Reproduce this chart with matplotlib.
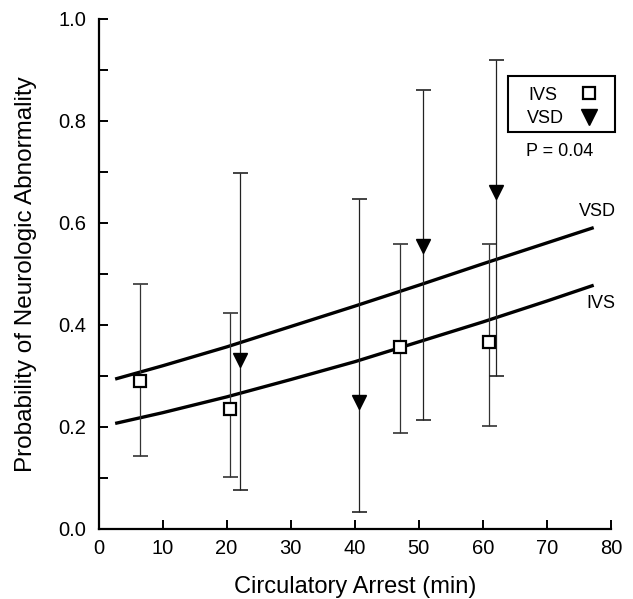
import matplotlib.pyplot as plt
from matplotlib.lines import Line2D
from matplotlib.patches import Rectangle
from matplotlib.ticker import MultipleLocator

plt.rcParams['font.family'] = ['Liberation Sans', 'DejaVu Sans']

# IVS group: mean and confidence limits
ivs_x = [6.4, 20.5, 47.0, 61.0]
ivs_y = [0.291, 0.235, 0.357, 0.367]
ivs_lo = [0.144, 0.101, 0.188, 0.201]
ivs_hi = [0.480, 0.423, 0.558, 0.558]

# VSD group
vsd_x = [22.1, 40.6, 50.7, 62.0]
vsd_y = [0.331, 0.250, 0.554, 0.661]
vsd_lo = [0.076, 0.034, 0.214, 0.300]
vsd_hi = [0.699, 0.648, 0.861, 0.920]

# fitted curves
curve_x = [2.6, 10, 20, 30, 40, 50, 60, 70, 77.3]
vsd_curve = [0.294, 0.320, 0.357, 0.397, 0.437, 0.478, 0.520, 0.561, 0.591]
ivs_curve = [0.207, 0.228, 0.259, 0.293, 0.328, 0.367, 0.406, 0.447, 0.478]

W, H = 633, 599
fig = plt.figure(figsize=(W/100, H/100), dpi=100)
ax = fig.add_axes([98.5/W, 70/H, 512.5/W, 510/H])

ax.plot(curve_x, vsd_curve, color='black', lw=2.4, solid_capstyle='butt', zorder=2)
ax.plot(curve_x, ivs_curve, color='black', lw=2.4, solid_capstyle='butt', zorder=2)

ivs_err = [[y - l for y, l in zip(ivs_y, ivs_lo)], [h - y for y, h in zip(ivs_y, ivs_hi)]]
vsd_err = [[y - l for y, l in zip(vsd_y, vsd_lo)], [h - y for y, h in zip(vsd_y, vsd_hi)]]

ax.errorbar(ivs_x, ivs_y, yerr=ivs_err, fmt='none', ecolor='#333333',
            elinewidth=0.9, capsize=5.4, capthick=1.2, zorder=3)
ax.errorbar(vsd_x, vsd_y, yerr=vsd_err, fmt='none', ecolor='#222222',
            elinewidth=0.9, capsize=5.4, capthick=1.2, zorder=3)
ax.plot(ivs_x, ivs_y, 's', ms=8.5, mfc='white', mec='black', mew=1.6, zorder=4)
ax.plot(vsd_x, vsd_y, 'v', ms=10, mfc='black', mec='black', zorder=4)

ax.text(77.9, 0.622, 'VSD', fontsize=13, ha='center', va='center')
ax.text(78.4, 0.443, 'IVS', fontsize=13, ha='center', va='center')

ax.set_xlim(0, 80)
ax.set_ylim(0, 1)
ax.xaxis.set_major_locator(MultipleLocator(10))
ax.yaxis.set_major_locator(MultipleLocator(0.2))
ax.yaxis.set_minor_locator(MultipleLocator(0.1))
ax.yaxis.set_major_formatter(plt.FuncFormatter(lambda v, p: f'{v:.1f}'))
for s in ['top', 'right']:
    ax.spines[s].set_visible(False)
for s in ['left', 'bottom']:
    ax.spines[s].set_linewidth(1.6)
ax.tick_params(which='both', direction='in', length=6.5, width=1.4, labelsize=14.5)
ax.tick_params(axis='y', pad=9)
ax.tick_params(axis='x', pad=7)

ax.set_xlabel('Circulatory Arrest (min)', fontsize=17, labelpad=13)
ax.set_ylabel('Probability of Neurologic Abnormality', fontsize=17.5, labelpad=15)

# legend box drawn by hand to match the original layout
fig.add_artist(Rectangle((508/W, 1 - 132/H), 107/W, 56/H, transform=fig.transFigure,
                         fill=False, edgecolor='black', lw=1.5))
fig.text(528/W, 1 - 95.7/H, 'IVS', fontsize=13, ha='left', va='center')
fig.text(527.3/W, 1 - 118.3/H, 'VSD', fontsize=13, ha='left', va='center')
fig.add_artist(Line2D([589.3/W], [1 - 92.7/H], transform=fig.transFigure, ls='none',
                      marker='s', ms=8.5, mfc='white', mec='black', mew=1.6))
fig.add_artist(Line2D([589/W], [1 - 117.3/H], transform=fig.transFigure, ls='none',
                      marker='v', ms=11, mfc='black', mec='black'))

fig.text(560/W, 1 - 151.7/H, 'P = 0.04', fontsize=13, ha='center', va='center')

fig.savefig('out.png', dpi=100)
